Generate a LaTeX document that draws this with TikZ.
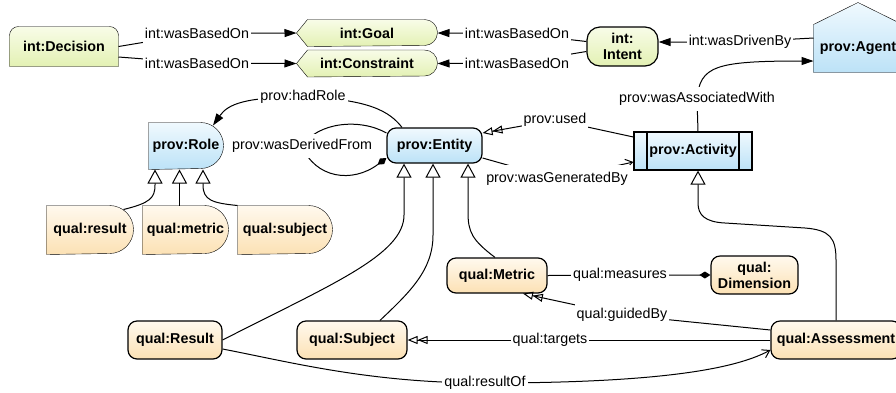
\documentclass[tikz,border=0pt]{standalone}
\usepackage{fontspec}
\setmainfont{Liberation Sans}
\usetikzlibrary{arrows.meta,backgrounds}
\definecolor{intTop}{HTML}{F8FCE8}
\definecolor{intBot}{HTML}{E3F1B3}
\definecolor{provTop}{HTML}{F0F9FE}
\definecolor{provBot}{HTML}{BCE2F7}
\definecolor{qualTop}{HTML}{FFF9EE}
\definecolor{qualBot}{HTML}{FCE1B4}
\begin{document}
\begin{tikzpicture}[x=1pt,y=-1pt,line width=1pt,
  font=\fontsize{14.3}{16}\selectfont,
  lbl/.style={fill=white, inner xsep=2pt, inner ysep=5pt},
  intfill/.style={top color=intTop, bottom color=intBot},
  provfill/.style={top color=provTop, bottom color=provBot},
  qualfill/.style={top color=qualTop, bottom color=qualBot},
  box/.style={draw, line width=1.2pt, rounded corners=9pt, font=\fontsize{14.3}{16}\selectfont\bfseries, align=center, inner sep=0pt},
  shapebox/.style={font=\fontsize{14.3}{16}\selectfont\bfseries, align=center, inner sep=0pt},
  rel/.style={-{Triangle[length=12pt,width=8pt]}},
  uses/.style={-{Triangle[open,length=10pt,width=8pt]Triangle[open,length=10pt,width=8pt]}},
  gen/.style={-{Straight Barb[length=7pt,width=9pt]}},
  comp/.style={-{Diamond[length=11pt,width=7pt]}},
  isa/.style={-{Triangle[open,length=14pt,width=15pt]}}]
  \useasboundingbox (0,0) rectangle (896,392);

  % Nodes
  \node[shapebox, minimum width=108pt, minimum height=39pt] (dec) at (64,46.5) {int:Decision};
  \node[shapebox, minimum width=140pt, minimum height=26pt] (goal) at (367,33) {int:Goal};
  \node[shapebox, minimum width=140pt, minimum height=26pt] (cons) at (367,63.5) {int:Constraint};
  \node[box, intfill, rounded corners=13pt, minimum width=71pt, minimum height=39pt] (intent) at (622.5,46.5) {int:\\Intent};
  \node[shapebox, minimum width=88pt, minimum height=47pt] (agent) at (858,48.5) {prov:Agent};

  \node[shapebox, minimum width=74pt, minimum height=46pt] (role) at (186,146) {prov:Role};
  \node[box, provfill, minimum width=95pt, minimum height=35pt] (ent) at (434.5,145.5) {prov:Entity};
  \node[box, provfill, sharp corners, minimum width=118pt, minimum height=38pt,
    path picture={\draw[line width=1.2pt]
      ([xshift=13pt]path picture bounding box.north west) -- ([xshift=13pt]path picture bounding box.south west)
      ([xshift=-13pt]path picture bounding box.north east) -- ([xshift=-13pt]path picture bounding box.south east);}]
    (act) at (693,151) {prov:Activity};

  \node[shapebox, minimum width=86pt, minimum height=48pt] (qres) at (90,230) {qual:result};
  \node[shapebox, minimum width=85pt, minimum height=48pt] (qmet) at (185.5,230) {qual:metric};
  \node[shapebox, minimum width=94pt, minimum height=48pt] (qsub) at (285,230) {qual:subject};

  \node[box, qualfill, minimum width=100pt, minimum height=35pt] (met) at (497,275.5) {qual:Metric};
  \node[box, qualfill, minimum width=87pt, minimum height=38pt] (dim) at (754.5,275) {qual:\\Dimension};
  \node[box, qualfill, minimum width=94pt, minimum height=38pt] (res) at (175,340) {qual:Result};
  \node[box, qualfill, minimum width=110pt, minimum height=38pt] (subj) at (352,340) {qual:Subject};
  \node[box, qualfill, minimum width=130pt, minimum height=38pt] (ass) at (836,340) {qual:Assessment};

  % Outlines of the special shapes
  \begin{scope}[on background layer, line width=1.2pt]
    \draw[intfill] (dec.south west) -- ([yshift=-9pt]dec.north west) arc[start angle=180, end angle=90, radius=9pt]
      -- ([xshift=-9pt]dec.north east) arc[start angle=90, end angle=0, radius=9pt] -- (dec.south east) -- cycle;
    \foreach \nd in {goal,cons}
      \draw[intfill] (\nd.west) -- ([xshift=11pt]\nd.north west) -- ([xshift=-13pt]\nd.north east)
        arc[start angle=90, end angle=-90, radius=13pt] -- ([xshift=11pt]\nd.south west) -- cycle;
    \draw[provfill] (agent.south west) -- (agent.north west) -- ([yshift=22pt]agent.north)
      -- (agent.north east) -- (agent.south east) -- cycle;
    \draw[provfill] (role.north west) -- ([xshift=-23pt]role.north east)
      arc[start angle=90, end angle=-90, radius=23pt] -- (role.south west) -- cycle;
    \foreach \nd in {qres,qmet,qsub}
      \draw[qualfill] (\nd.north west) -- ([xshift=-24pt]\nd.north east)
        arc[start angle=90, end angle=-90, radius=24pt] -- (\nd.south west) -- cycle;
  \end{scope}

  % Arrows
  \draw[rel] (dec.east) -- (197,33.5) node[lbl] {int:wasBasedOn} -- (goal.west);
  \draw[rel] ([yshift=-10.5pt]dec.east) -- (197,63) node[lbl] {int:wasBasedOn} -- (cons.west);
  \draw[rel] ([yshift=5pt]intent.west) -- (517,33.5) node[lbl] {int:wasBasedOn} -- (goal.east);
  \draw[rel] ([yshift=-5pt]intent.west) -- (517,63) node[lbl] {int:wasBasedOn} -- (cons.east);
  \draw[rel] ([yshift=10.5pt]agent.west) -- (740,42) node[lbl] {int:wasDrivenBy} -- ([yshift=4.5pt]intent.east);
  \draw[rel] ([xshift=5pt]act.north) -- (697,99) node[lbl] {prov:wasAssociatedWith}
    .. controls (700,66) and (715,61) .. ([yshift=-12.5pt]agent.west);

  \draw[uses] ([yshift=14pt]act.west) -- (555,120) node[lbl] {prov:used} -- ([yshift=12.5pt]ent.east);
  \draw[gen] ([yshift=-12.5pt]ent.east) -- (557,179) node[lbl, inner ysep=7pt] {prov:wasGeneratedBy} -- ([yshift=-11pt]act.west);
  \draw[rel] ([xshift=-32.5pt]ent.north) .. controls (390,112) and (370,99) .. (303,97) node[lbl] {prov:hadRole}
    .. controls (245,97) and (228,104) .. ([xshift=27pt,yshift=-3pt]role.north);
  \draw[comp] ([yshift=12.5pt]ent.west) .. controls (360,118) and (318,122) .. (302,146) node[lbl] {prov:wasDerivedFrom}
    .. controls (315,178) and (352,184) .. ([yshift=-12.5pt]ent.west);

  \draw[isa] ([xshift=-10pt,yshift=-4pt]qres.north east) .. controls (150,203) and (155,198) .. (155,185) -- ([xshift=-31pt]role.south);
  \draw[isa] ([xshift=-6pt]qmet.north) -- ([xshift=-6.5pt]role.south);
  \draw[isa] (qsub.north west) .. controls (212,203) and (203,200) .. (203,185) -- ([xshift=17pt]role.south);

  \draw[isa] (res.east) .. controls (330,285) and (404,255) .. (404,215) -- ([xshift=-30.5pt]ent.south);
  \draw[isa] ([xshift=28pt]subj.north) .. controls (410,292) and (433,270) .. (433,235) -- ([xshift=-1.5pt]ent.south);
  \draw[isa] ([xshift=-2pt]met.north) .. controls (472,240) and (468,232) .. (468,212) -- ([xshift=33.5pt]ent.south);
  \draw[isa] (ass.north) -- (836,260) .. controls (836,238) and (830,230) .. (805,228) -- (725,223)
    .. controls (705,222) and (698,215) .. (698,203) -- ([xshift=5pt]act.south);

  \draw[comp] (met.east) -- (620,275) node[lbl] {qual:measures} -- (dim.west);
  \draw[uses] ([yshift=10pt]ass.west) -- (622,315) node[lbl] {qual:guidedBy} -- ([xshift=26pt]met.south);
  \draw[uses] (ass.west) -- (550,340) node[lbl] {qual:targets} -- (subj.east);
  \draw[gen] ([yshift=-9pt]res.east) .. controls (290,362) and (370,383) .. (485,383) node[lbl] {qual:resultOf}
    .. controls (640,383) and (730,372) .. ([yshift=-10pt]ass.west);
\end{tikzpicture}
\end{document}
